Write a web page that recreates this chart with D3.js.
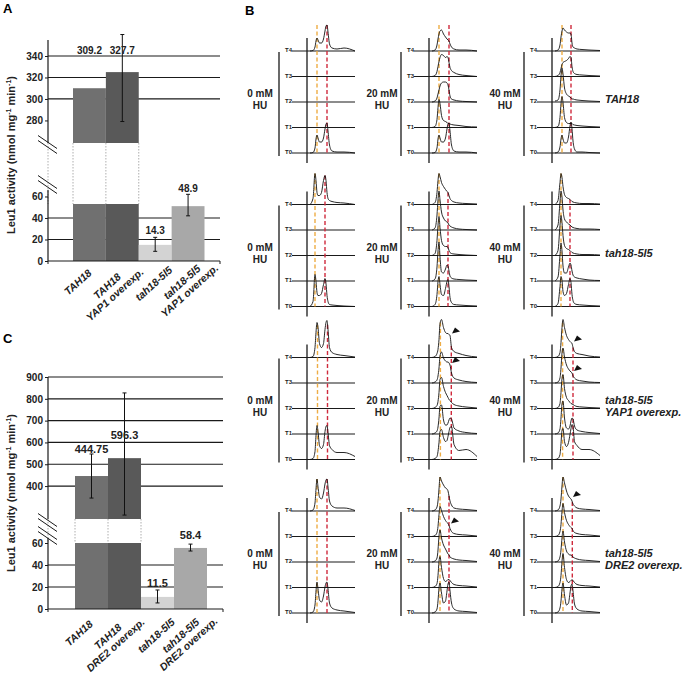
<!DOCTYPE html>
<html>
<head>
<meta charset="utf-8">
<script src="https://cdn.jsdelivr.net/npm/d3@7"></script>
<style>
  body { margin: 0; background: #fff; }
  svg { display: block; font-family: 'Liberation Sans', Arial, sans-serif; font-weight: bold; }
</style>
</head>
<body>
<div id="chart"></div>
<script>
// ---- panel A / C : Leu1 activity ----
const categoriesA = [['TAH18'], ['TAH18', 'YAP1 overexp.'], ['tah18-5l5'], ['tah18-5l5', 'YAP1 overexp.']]
const activityA = [310, 325, 15, 51]
const errorA = [null, [279, 360], [9, 22], [42, 62]]
const printedA = ['309.2', '327.7', '14.3', '48.9']
const printedAtA = [342, 342, 25, 64]

const categoriesC = [['TAH18'], ['TAH18', 'DRE2 overexp.'], ['tah18-5l5'], ['tah18-5l5', 'DRE2 overexp.']]
const activityC = [446, 528, 11, 55.5]
const errorC = [[345, 547], [267, 827], [5.5, 17.3], [52.7, 59]]
const printedC = ['444.75', '596.3', '11.5', '58.4']
const printedAtC = [551, 615, 20, 63.6]

const ticksA = { low: [0, 20, 40, 60], high: [280, 300, 320, 340] }
const ticksC = { low: [0, 20, 40, 60], high: [400, 500, 600, 700, 800, 900] }

// ---- panel B : DNA content histograms ----
const doses = ['0 mM', '20 mM', '40 mM']
const timepoints = ['T0', 'T1', 'T2', 'T3', 'T4']
const strains = [['TAH18'], ['tah18-5l5'], ['tah18-5l5', 'YAP1 overexp.'], ['tah18-5l5', 'DRE2 overexp.']]
const dnaChannels = [30, 60, 80, 90, 100, 110, 125, 145, 165, 180, 190, 200, 210, 225, 250, 300, 370, 480]

// G1 / G2 marker channels, [strain][dose]
const peakMarks = [
  [[100, 200], [100, 200], [100, 190]],
  [[80, 180], [100, 190], [90, 180]],
  [[105, 205], [114, 223], [106, 210]],
  [[100, 200], [110, 200], [110, 203]]
]

// counts per channel, [dose][timepoint T0..T4], null = not measured
const facsTAH18 = [
  [
    [0, 0.5, 5, 14, 18, 15, 11, 11, 15, 24, 29, 30, 22, 8, 2, 1, 1, 0],
    null, null, null,
    [0, 0.5, 4, 10, 13, 11, 8, 8, 12, 20, 25, 26, 19, 7, 3, 2, 3, 0]
  ],
  [
    [0, 0.5, 5, 14, 18, 15, 11, 11, 15, 24, 29, 30, 22, 8, 2, 1, 1, 0],
    [0, 1, 8, 20, 28, 24, 12, 7, 6, 5, 4, 4, 3.5, 3, 2.5, 2, 1, 0.5],
    [0, 1, 4, 8, 12, 16, 19, 20, 20, 19, 17, 12, 6, 3, 2, 1, 0.5, 0],
    [0, 1, 5, 10, 15, 19, 22, 21, 19, 20, 19, 14, 9, 6, 4, 2, 1, 0],
    [0, 1, 6, 12, 17, 20, 21, 17, 14, 12, 11, 10, 7, 4, 2, 1, 1, 0]
  ],
  [
    [0, 1, 6, 14, 18, 14, 10, 10, 16, 27, 31, 24, 12, 4, 1, 1, 0.5, 0],
    [0, 1, 10, 24, 31, 25, 10, 5, 4, 4, 4, 4, 3, 2.5, 2, 1.5, 1, 0.5],
    [1, 2, 12, 26, 34, 28, 14, 8, 6, 5, 4, 3, 3, 2.5, 2, 1.5, 1, 0.5],
    [0, 1, 4, 8, 12, 14, 15, 16, 18, 20, 19, 10, 5, 3, 2, 1.5, 1, 0.5],
    [0, 1, 6, 14, 20, 23, 21, 19, 18, 18, 17, 8, 4, 3, 2, 1.5, 1, 0.5]
  ]
]

const facsTah18 = [
  [
    [0, 5, 32, 25, 14, 11, 11, 13, 22, 28, 23, 11, 5, 2, 1.5, 1, 0.5, 0],
    null, null, null,
    [0, 6, 31, 24, 12, 9, 9, 12, 24, 29, 24, 12, 6, 4, 3, 2, 1.5, 0]
  ],
  [
    [0, 2, 12, 25, 30, 22, 12, 11, 18, 25, 27, 20, 9, 4, 2, 1.5, 1, 0.5],
    [0, 2, 14, 30, 39, 24, 9, 8, 12, 16, 15, 10, 5, 3, 2, 1.5, 1, 0.5],
    [0, 2, 15, 30, 39, 28, 15, 10, 9, 9, 8, 5, 3, 2, 1.5, 1, 0.5, 0],
    [0, 2, 15, 30, 39, 30, 18, 12, 9, 8, 7, 5, 4, 3, 2, 1, 0.5, 0],
    [0, 2, 12, 24, 31, 28, 22, 18, 15, 13, 12, 9, 6, 4, 2.5, 1.5, 1, 0.5]
  ],
  [
    [0, 3, 20, 30, 26, 15, 11, 13, 22, 28, 24, 12, 6, 3, 2, 1.5, 1, 0.5],
    [0, 4, 26, 38, 30, 15, 8, 8, 14, 18, 16, 10, 6, 4, 3, 2, 1, 0.5],
    [0, 5, 30, 40, 33, 20, 10, 7, 6, 5, 4, 3, 2.5, 2, 1.5, 1, 1, 0.5],
    [0, 5, 28, 39, 33, 20, 11, 8, 6, 5, 4, 3, 2.5, 2, 1.5, 1, 1, 0.5],
    [0, 4, 22, 31, 27, 18, 10, 7, 6, 5, 4, 3, 2.5, 2, 1.5, 1, 1, 0.5]
  ]
]

const facsYAP1 = [
  [
    [0, 1, 8, 24, 34, 28, 14, 11, 15, 28, 33, 34, 27, 14, 10, 7, 7, 3],
    null, null, null,
    [0, 1, 10, 25, 35, 30, 14, 10, 14, 28, 35, 37, 28, 10, 5, 3, 2, 0.5]
  ],
  [
    [0, 1, 3, 8, 17, 28, 30, 22, 18, 19, 23, 28, 32, 33, 15, 9, 10, 3],
    [0, 1, 3, 7, 16, 28, 29, 14, 9, 9, 11, 14, 16, 15, 6, 3, 1.5, 0.5],
    [0, 1, 3, 7, 16, 29, 31, 22, 16, 13, 11, 9, 8, 6, 4, 2.5, 1.5, 0.5],
    [0, 1, 3, 7, 15, 27, 31, 25, 22, 21, 21, 20, 18, 10, 5, 3, 1.5, 0.5],
    [0, 1, 4, 8, 18, 34, 38, 30, 25, 24, 24, 23, 22, 10, 6, 4, 2, 0.5]
  ],
  [
    [0, 1, 5, 16, 29, 31, 18, 13, 17, 25, 31, 35, 33, 18, 14, 10, 10, 4],
    [0, 1, 5, 16, 30, 33, 16, 6, 5, 8, 13, 16, 15, 8, 4, 2.5, 1.5, 0.5],
    [0, 1, 5, 16, 30, 34, 20, 11, 8, 6, 5, 4.5, 4, 3, 2, 1.5, 1, 0.5],
    [0, 1, 5, 15, 30, 35, 26, 18, 14, 12, 11, 10, 7, 5, 3, 2, 1, 0.5],
    [0, 1, 5, 15, 30, 38, 30, 22, 18, 16, 15, 14, 10, 6, 4, 3, 1.5, 0.5]
  ]
]

const facsDRE2 = [
  [
    [0, 1, 8, 22, 31, 24, 13, 11, 17, 26, 30, 31, 24, 10, 5, 3, 2, 0.5],
    null, null, null,
    [0, 1, 8, 22, 32, 24, 14, 12, 18, 27, 31, 32, 24, 10, 5, 3, 3, 0.5]
  ],
  [
    [0, 1, 4, 12, 25, 30, 20, 10, 12, 22, 29, 31, 22, 10, 4, 2, 1.5, 0.5],
    [0, 1, 4, 12, 26, 31, 20, 9, 6, 7, 8, 8, 7, 5, 3, 2, 1.5, 0.5],
    [0, 1, 4, 12, 26, 32, 24, 17, 13, 10, 8, 7, 5, 4, 3, 2, 1.5, 0.5],
    [0, 1, 4, 10, 22, 30, 26, 20, 16, 14, 13, 11, 8, 5, 3, 2, 1.5, 0.5],
    [0, 1, 4, 10, 22, 34, 30, 26, 23, 22, 20, 15, 10, 6, 3, 2, 1.5, 0.5]
  ],
  [
    [0, 1, 5, 12, 24, 30, 18, 8, 10, 20, 27, 29, 22, 9, 4, 2, 1.5, 0.5],
    [0, 1, 5, 12, 26, 34, 20, 8, 5, 6, 7, 8, 7, 5, 3, 2, 1.5, 0.5],
    [0, 1, 5, 12, 24, 31, 20, 11, 8, 7, 7, 6, 5, 4, 3, 2, 1.5, 0.5],
    [0, 1, 5, 12, 25, 33, 24, 16, 12, 10, 9, 8, 6, 4, 3, 2, 1.5, 0.5],
    [0, 1, 5, 12, 25, 34, 28, 20, 15, 13, 12, 10, 7, 5, 3, 2, 1.5, 0.5]
  ]
]

// arrowheads: [strain, dose, timepoint, channel]
const arrowMarks = [[2, 1, 4, 210], [2, 1, 3, 210], [2, 2, 4, 200], [2, 2, 3, 200], [3, 1, 4, 150], [3, 1, 3, 200], [3, 2, 4, 190]]

const facsByStrain = [facsTAH18, facsTah18, facsYAP1, facsDRE2]

const width = 685
const height = 679
const greys = ['#707070', '#595959', '#d3d3d3', '#a8a8a8']

const svg = d3.select('#chart')
  .append('svg')
  .attr('width', width)
  .attr('height', height)
  .attr('viewBox', [0, 0, width, height])

// panel letters
svg.append('g').attr('font-size', 13)
  .selectAll('text')
  .data([['A', 3, 13], ['B', 245, 15], ['C', 3, 343]])
  .join('text')
  .attr('x', d => d[1]).attr('y', d => d[2])
  .text(d => d[0])

function barPanel (opt) {
  const g = svg.append('g')
  const x = d3.scaleBand().domain(d3.range(opt.values.length)).range(opt.xr).padding(0)
  const yLow = d3.scaleLinear().domain(opt.low).range(opt.lowPx)
  const yHigh = d3.scaleLinear().domain(opt.high).range(opt.highPx)
  const cutLow = opt.low[1]
  const cutHigh = opt.high[0]
  const axisX = opt.axisX
  const right = opt.right
  const scaleOf = v => v > cutLow ? yHigh : yLow

  // grid
  g.append('g').attr('stroke', '#1a1a1a').attr('stroke-width', 1.2)
    .selectAll('line')
    .data([...opt.lowGrid.map(v => yLow(v)), ...opt.highGrid.map(v => yHigh(v))])
    .join('line')
    .attr('x1', axisX).attr('x2', right)
    .attr('y1', d => d).attr('y2', d => d)

  // bars, broken ones in two pieces
  const bars = g.append('g')
  opt.values.forEach((v, i) => {
    if (v > cutLow) {
      bars.append('rect').attr('x', x(i)).attr('width', x.bandwidth())
        .attr('y', yLow(cutLow)).attr('height', yLow(0) - yLow(cutLow)).attr('fill', greys[i])
      bars.append('rect').attr('x', x(i)).attr('width', x.bandwidth())
        .attr('y', yHigh(v)).attr('height', yHigh(cutHigh) - yHigh(v)).attr('fill', greys[i])
    } else {
      bars.append('rect').attr('x', x(i)).attr('width', x.bandwidth())
        .attr('y', yLow(v)).attr('height', yLow(0) - yLow(v)).attr('fill', greys[i])
    }
  })

  // dotted joins across the break
  const broken = opt.values.map((v, i) => i).filter(i => opt.values[i] > cutLow)
  const edges = Array.from(new Set(broken.flatMap(i => [x(i), x(i) + x.bandwidth()])))
  g.append('g').attr('stroke', '#999').attr('stroke-width', 0.8).attr('stroke-dasharray', '1.5,1.5')
    .selectAll('line')
    .data([axisX, ...edges])
    .join('line')
    .attr('x1', d => d).attr('x2', d => d)
    .attr('y1', yHigh(cutHigh)).attr('y2', yLow(cutLow))

  // axis segments
  g.append('g').attr('stroke', '#1a1a1a').attr('stroke-width', 1.2)
    .selectAll('line')
    .data([[opt.axisTop, yHigh(cutHigh)], [opt.lowAxisTop, yLow(0)]])
    .join('line')
    .attr('x1', axisX).attr('x2', axisX)
    .attr('y1', d => d[0]).attr('y2', d => d[1])
  g.append('line').attr('stroke', '#1a1a1a').attr('stroke-width', 1.2)
    .attr('x1', axisX).attr('x2', right).attr('y1', yLow(0)).attr('y2', yLow(0))
  g.append('g').attr('stroke', '#1a1a1a').attr('stroke-width', 1)
    .selectAll('line')
    .data([axisX, right])
    .join('line')
    .attr('x1', d => d).attr('x2', d => d)
    .attr('y1', yLow(0)).attr('y2', yLow(0) + 3)

  // break marks
  g.append('g').attr('stroke', '#1a1a1a').attr('stroke-width', 1)
    .selectAll('line')
    .data(opt.breaks.flatMap(b => [b - 2.5, b + 2.5]))
    .join('line')
    .attr('x1', axisX - 10).attr('y1', d => d - 7)
    .attr('x2', axisX + 9).attr('y2', d => d + 6)

  // tick labels
  const tickAxis = (scale, vals) => gg => gg
    .attr('transform', `translate(${axisX},0)`)
    .call(d3.axisLeft(scale).tickValues(vals).tickSize(3).tickPadding(2))
    .call(s => s.select('.domain').remove())
    .call(s => s.selectAll('text').attr('font-size', 10).attr('font-family', null).attr('fill', '#222'))
    .call(s => s.selectAll('line').attr('stroke', '#1a1a1a'))
  g.append('g').call(tickAxis(yLow, opt.lowTicks))
  g.append('g').call(tickAxis(yHigh, opt.highTicks))

  // error bars
  const eb = g.append('g').attr('stroke', '#111').attr('stroke-width', 1)
  opt.errors.forEach((e, i) => {
    if (!e) return
    const s = scaleOf(opt.values[i])
    const cx = x(i) + x.bandwidth() / 2
    eb.append('line').attr('x1', cx).attr('x2', cx).attr('y1', s(e[0])).attr('y2', s(e[1]))
    eb.append('line').attr('x1', cx - 2).attr('x2', cx + 2).attr('y1', s(e[0])).attr('y2', s(e[0]))
    eb.append('line').attr('x1', cx - 2).attr('x2', cx + 2).attr('y1', s(e[1])).attr('y2', s(e[1]))
  })

  // printed values, placed on the scale of their own bar
  g.append('g').attr('font-size', opt.valueFont).attr('text-anchor', 'middle').attr('fill', '#222')
    .selectAll('text')
    .data(opt.printed)
    .join('text')
    .attr('x', (d, i) => x(i) + x.bandwidth() / 2)
    .attr('y', (d, i) => scaleOf(opt.values[i])(opt.printedAt[i]))
    .text(d => d)

  // y title
  const t = g.append('text').attr('font-size', 11).attr('text-anchor', 'middle').attr('fill', '#222')
    .attr('transform', `translate(${opt.titleX},${opt.titleY}) rotate(-90)`)
  t.append('tspan').text('Leu1 activity (nmol mg')
  t.append('tspan').attr('font-size', 7).attr('dy', -4).text('-1')
  t.append('tspan').attr('dy', 4).text(' min')
  t.append('tspan').attr('font-size', 7).attr('dy', -4).text('-1')
  t.append('tspan').attr('dy', 4).text(')')

  // category labels, rotated; the last (longest) line ends at the anchor
  const lab = g.append('g').attr('font-size', 10.5).attr('font-style', 'italic').attr('fill', '#222')
  opt.cats.forEach((lines, i) => {
    const ax = x(i) + x.bandwidth() / 2 + opt.labelDx[i]
    const ay = yLow(0) + opt.labelDy[i]
    const tg = lab.append('g').attr('transform', `translate(${ax},${ay}) rotate(-42)`)
    const txt = tg.selectAll('text').data(lines).join('text')
      .attr('text-anchor', 'middle')
      .attr('y', (d, k) => (k - lines.length + 1) * 11.5)
      .text(d => d)
    const w = d3.max(txt.nodes(), n => n.getComputedTextLength())
    txt.attr('x', -w / 2)
  })
}

barPanel({
  cats: categoriesA, values: activityA, errors: errorA, printed: printedA, printedAt: printedAtA,
  xr: [73, 204.5], low: [0, 53], lowPx: [261, 204], high: [259, 340], highPx: [143, 56],
  axisX: 48, right: 220, axisTop: 40, lowAxisTop: 190,
  lowGrid: [20, 40], highGrid: [300, 320, 340], lowTicks: ticksA.low, highTicks: ticksA.high,
  breaks: [145, 185], valueFont: 10, titleX: 15, titleY: 155,
  labelDx: [3, 22, 18, 31], labelDy: [13, 12, 10, 8]
})

barPanel({
  cats: categoriesC, values: activityC, errors: errorC, printed: printedC, printedAt: printedAtC,
  xr: [75, 207], low: [0, 60], lowPx: [609, 543], high: [249, 900], highPx: [519, 377],
  axisX: 48, right: 223, axisTop: 377, lowAxisTop: 538,
  lowGrid: [20, 40], highGrid: ticksC.high, lowTicks: ticksC.low, highTicks: ticksC.high,
  breaks: [523, 536], valueFont: 11, titleX: 15, titleY: 493,
  labelDx: [2, 21, 18, 28], labelDy: [16, 14, 14, 13]
})

// ---- panel B ----
const colAxis = [307, 429, 552]
const rowT0 = [153, 306.5, 459.5, 613]
const markerReach = [26, 0, 0, 0]
const tStep = 25.5
const count = d3.scaleLinear().domain([0, 40]).range([0, 40])

const hb = svg.append('g')
strains.forEach((strainLines, si) => {
  const yT = d3.scaleLinear().domain([0, 4]).range([rowT0[si], rowT0[si] - 4 * tStep])
  doses.forEach((dose, di) => {
    const ax = colAxis[di]
    const xc = d3.scaleLinear().domain([0, 480]).range([ax, ax + 48])
    const p = hb.append('g')
    const traces = facsByStrain[si][di]

    // time baselines + labels
    p.append('g').attr('stroke', '#1a1a1a').attr('stroke-width', 1.2)
      .selectAll('line').data(timepoints).join('line')
      .attr('x1', xc(-150)).attr('x2', xc(480))
      .attr('y1', (d, k) => yT(k)).attr('y2', (d, k) => yT(k))
    p.append('g').attr('font-size', 6).attr('text-anchor', 'end').attr('fill', '#222')
      .selectAll('text').data(timepoints).join('text')
      .attr('x', xc(-150)).attr('y', (d, k) => yT(k) + 1)
      .text(d => d)

    // bracket + axis
    p.append('line').attr('stroke', '#1a1a1a').attr('stroke-width', 1.3)
      .attr('x1', ax - 28).attr('x2', ax - 28).attr('y1', yT(4) + 1).attr('y2', yT(0) + 3)
    p.append('line').attr('stroke', '#1a1a1a').attr('stroke-width', 1.3)
      .attr('x1', ax).attr('x2', ax).attr('y1', yT(4) - 13).attr('y2', yT(0) + 10)

    // condition label
    const cl = p.append('text').attr('font-size', 10).attr('text-anchor', 'middle').attr('fill', '#222')
      .attr('x', ax - 47).attr('y', yT(2) - 5)
    cl.append('tspan').attr('x', ax - 47).text(dose)
    cl.append('tspan').attr('x', ax - 47).attr('dy', 12).text('HU')

    // G1 / G2 dashed markers, from T4 trace down to T0
    const top = traces[4]
    const at = ch => {
      const j = d3.bisectLeft(dnaChannels, ch)
      const t = (ch - dnaChannels[j - 1]) / (dnaChannels[j] - dnaChannels[j - 1])
      return Math.max(markerReach[si], top[j - 1] + t * (top[j] - top[j - 1]))
    }
    p.append('g').attr('stroke-width', 1.4).attr('stroke-dasharray', '4,2.5')
      .selectAll('line').data(peakMarks[si][di]).join('line')
      .attr('stroke', (d, k) => k === 0 ? '#eead45' : '#cf2a3c')
      .attr('x1', d => xc(d)).attr('x2', d => xc(d))
      .attr('y1', d => yT(4) - count(at(d))).attr('y2', yT(0))

    // traces
    const line = d3.line().curve(d3.curveMonotoneX)
    p.append('g').attr('fill', 'none').attr('stroke', '#111').attr('stroke-width', 0.9)
      .selectAll('path').data(traces.map((c, k) => ({ c, k })).filter(d => d.c)).join('path')
      .attr('d', d => line(d.c.map((v, j) => [xc(dnaChannels[j]), yT(d.k) - count(v)])))
  })

  // strain label
  const st = hb.append('text').attr('font-size', 11).attr('font-style', 'italic').attr('fill', '#222')
    .attr('y', yT(2) - (strainLines.length > 1 ? 6 : 0) + 1)
  strainLines.forEach((s, k) => st.append('tspan').attr('x', 605).attr('dy', k ? 12 : 0).text(s))

  // arrowheads
  arrowMarks.filter(a => a[0] === si).forEach(a => {
    const ax = colAxis[a[1]]
    const xc = d3.scaleLinear().domain([0, 480]).range([ax, ax + 48])
    const tr = facsByStrain[si][a[1]][a[2]]
    const j = dnaChannels.indexOf(a[3])
    const sx = xc(a[3]) + 2
    const sy = yT(a[2]) - count(tr[j]) - 2
    hb.append('path').attr('fill', '#111')
      .attr('d', `M${sx},${sy}L${sx + 3},${sy - 6}L${sx + 8},${sy - 2}Z`)
  })
})
</script>
</body>
</html>
